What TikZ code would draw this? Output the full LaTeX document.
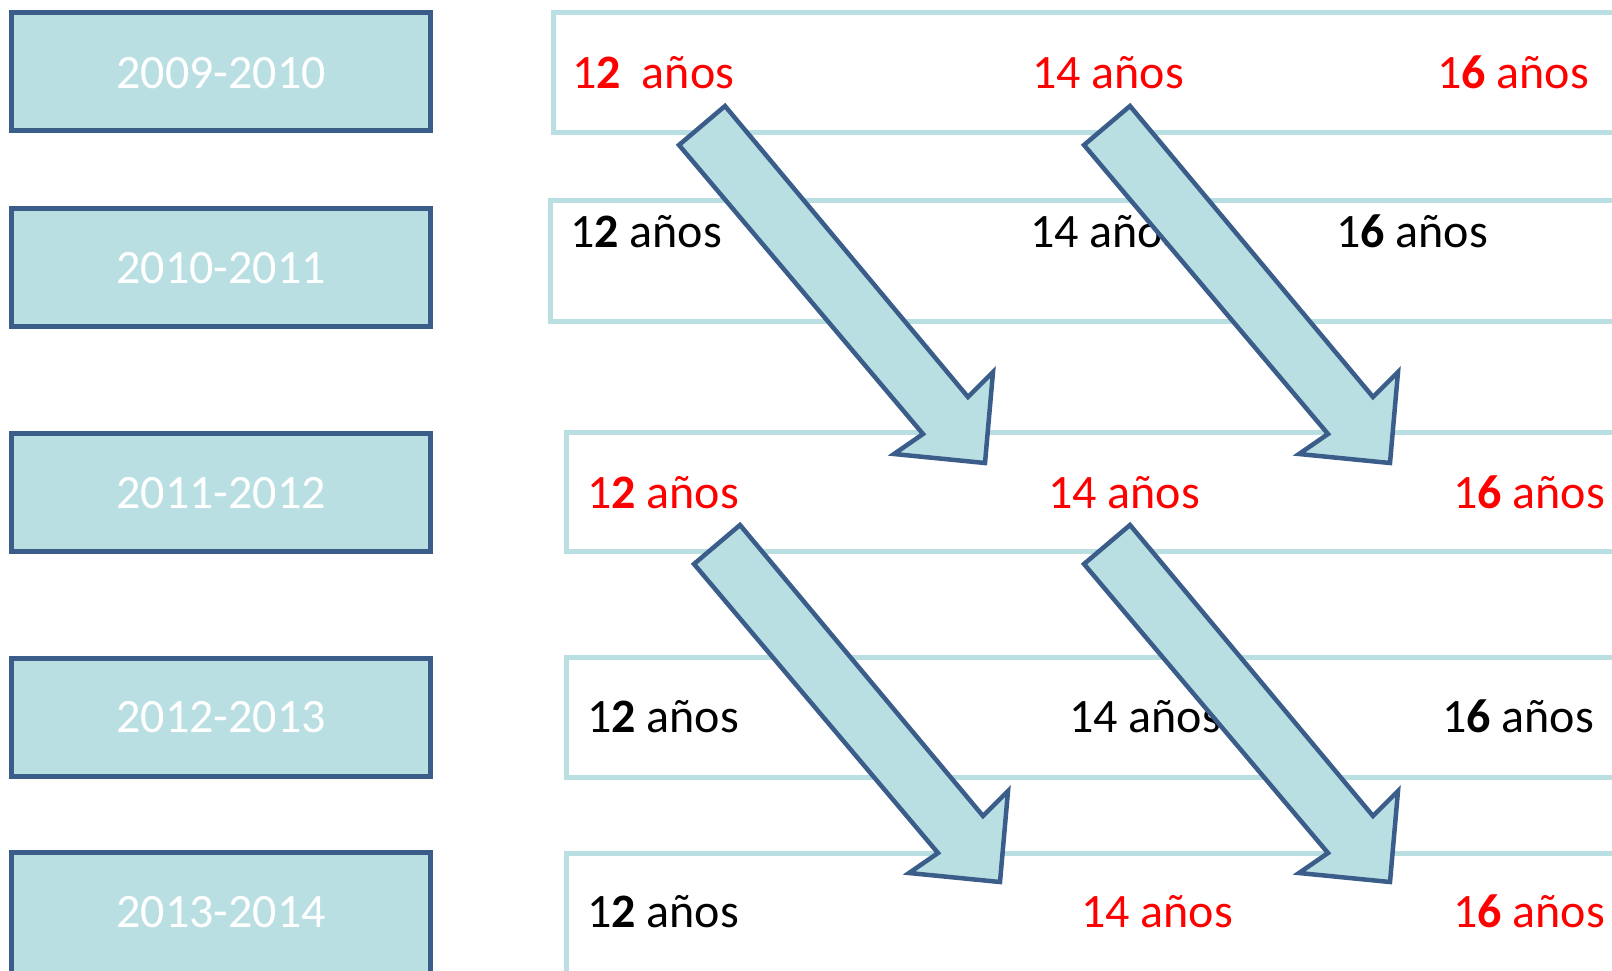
\documentclass[tikz,border=0pt]{standalone}
\usepackage{fontspec}
\setmainfont{Carlito}
\definecolor{lblue}{HTML}{B9DFE3}
\definecolor{dblue}{HTML}{3A5D8A}
\definecolor{lborder}{HTML}{B9DFE3}
\definecolor{redtxt}{HTML}{FF0000}
\tikzset{
  yearbox/.style={draw=dblue,fill=lblue,line width=5pt,minimum width=419pt,minimum height=118pt,inner sep=0pt},
  rowbox/.style={draw=lborder,line width=5pt,fill=white},
  yeartxt/.style={anchor=base,inner sep=0pt,text=white,font=\fontsize{48}{58}\selectfont},
  agetxt/.style={anchor=base west,inner sep=0pt,font=\fontsize{48}{58}\selectfont},
  arrowstyle/.style={draw=dblue,fill=lblue,line width=4.5pt,line join=miter},
  blockarrow/.pic={\draw[arrowstyle] (-46,39) -- (0,0) -- (243,291) -- (268,266) -- (260,357) -- (169,348) -- (198,328) -- cycle;}
}
\newcommand{\dozeA}{1\textbf{2}}
\newcommand{\diezseis}{1\textbf{6}}
\begin{document}
\begin{tikzpicture}[x=1pt,y=-1pt]
\useasboundingbox[fill=white] (0,0) rectangle (1612,970);
% left year boxes
\node[yearbox] (y1) at (221,71.5) {};
\node[yearbox] (y2) at (221,267) {};
\node[yearbox] (y3) at (221,492) {};
\node[yearbox] (y4) at (221,717) {};
\node[yearbox,minimum height=160pt] (y5) at (221,932) {};
\node[yeartxt] (t1) at (221,88) {2009-2010};
\node[yeartxt] (t2) at (221,283) {2010-2011};
\node[yeartxt] (t3) at (221,508) {2011-2012};
\node[yeartxt] (t4) at (221,732.5) {2012-2013};
\node[yeartxt] (t5) at (221,927) {2013-2014};
% right row boxes
\draw[rowbox] (553,12) rectangle (1630,132);
\draw[rowbox] (550,200.5) rectangle (1630,321);
\draw[rowbox] (566.5,432.5) rectangle (1630,551.5);
\draw[rowbox] (566.5,657) rectangle (1630,777.5);
\draw[rowbox] (566.5,853) rectangle (1630,990);
% ages
\node[agetxt,text=redtxt] (a11) at (572,88) {\dozeA\hspace{21pt}años};
\node[agetxt,text=redtxt] (a12) at (1032,88) {14 años};
\node[agetxt,text=redtxt] (a13) at (1437,88) {\diezseis{} años};
\node[agetxt] (a21) at (570,247) {\dozeA{} años};
\node[agetxt] (a22) at (1030,247) {14 años};
\node[agetxt] (a23) at (1336,247) {\diezseis{} años};
\node[agetxt,text=redtxt] (a31) at (587,508) {\dozeA{} años};
\node[agetxt,text=redtxt] (a32) at (1048,508) {14 años};
\node[agetxt,text=redtxt] (a33) at (1453,508) {\diezseis{} años};
\node[agetxt] (a41) at (587,732.5) {\dozeA{} años};
\node[agetxt] (a42) at (1069,732.5) {14 años};
\node[agetxt] (a43) at (1442,732.5) {\diezseis{} años};
\node[agetxt] (a51) at (587,927) {\dozeA{} años};
\node[agetxt,text=redtxt] (a52) at (1081,927) {14 años};
\node[agetxt,text=redtxt] (a53) at (1453,927) {\diezseis{} años};
% block arrows
\pic at (725,106) {blockarrow};
\pic at (1130,106) {blockarrow};
\pic at (740,525) {blockarrow};
\pic at (1130,525) {blockarrow};
\end{tikzpicture}
\end{document}
